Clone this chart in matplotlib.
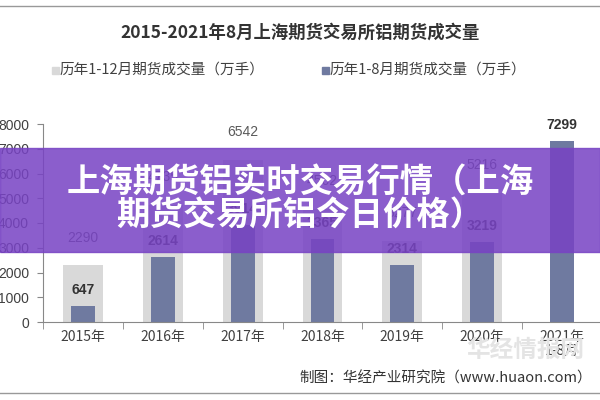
import matplotlib
matplotlib.use("Agg")
import matplotlib.pyplot as plt
from matplotlib.patches import Rectangle
import numpy as np

plt.rcParams['font.family'] = ['Noto Sans CJK SC', 'DejaVu Sans']

categories = ["2015年", "2016年", "2017年", "2018年", "2019年", "2020年", "2021年\n1-8月"]
full_year = [2290, 4735, 6542, 4562, 3277, 5216, None]
jan_aug = [647, 2614, 3914, 3365, 2314, 3219, 7299]
yticks = [0, 1000, 2000, 3000, 4000, 5000, 6000, 7000, 8000]

title = "2015-2021年8月上海期货交易所铝期货成交量"
legend_labels = ["历年1-12月期货成交量（万手）", "历年1-8月期货成交量（万手）"]
banner_lines = ["上海期货铝实时交易行情（上海", "期货交易所铝今日价格）"]
source = "制图：华经产业研究院（www.huaon.com）"

gray = "#d9d9d9"
dark = "#6f7aa0"
txt = "#404040"

fig = plt.figure(figsize=(6, 4), dpi=100)
ax = fig.add_axes([43/600, 1-322/400, 559/600, 198/400])

x = np.arange(len(categories))
fy_x = [i for i, v in enumerate(full_year) if v is not None]
fy_v = [v for v in full_year if v is not None]
ax.bar(fy_x, fy_v, width=0.5, color=gray, zorder=1)
ax.bar(x, jan_aug, width=0.3, color=dark, zorder=2)

for xi, v in zip(fy_x, fy_v):
    ax.annotate(f"{v}", (xi, v), xytext=(0, 20), textcoords="offset points",
                ha="center", va="center", fontsize=10, color="#595959",
                family=['Liberation Sans', 'DejaVu Sans'])
for xi, v in zip(x, jan_aug):
    ax.annotate(f"{v}", (xi, v), xytext=(0, 11.5), textcoords="offset points",
                ha="center", va="center", fontsize=10, color="#333333",
                fontweight="bold", family=['Liberation Sans', 'DejaVu Sans'])

ax.set_xlim(-0.5, len(categories) - 0.5)
ax.set_ylim(0, 8000)
ax.set_yticks(yticks)
ax.set_yticklabels([str(t) for t in yticks], fontsize=10, color=txt,
                   family=['Liberation Sans', 'DejaVu Sans'])
ax.set_xticks(x)
ax.set_xticklabels(categories, fontsize=10, color=txt, linespacing=1.0)
ax.set_xticks(np.arange(-0.5, len(categories) + 0.5, 1), minor=True)
ax.tick_params(axis='x', which='major', length=0, pad=6)
ax.tick_params(axis='x', which='minor', length=5, color="#888888")
ax.tick_params(axis='y', length=4, color="#888888", pad=6)
for s in ["top", "right"]:
    ax.spines[s].set_visible(False)
ax.spines["left"].set_color("#888888")
ax.spines["bottom"].set_color("#888888")

fig.text(0.5, 1-33/400, title, ha="center", va="center", fontsize=12.5,
         fontweight="bold", color="#333333")

# legend
fig.patches.append(Rectangle((52/600, 1-74/400), 7/600, 7/400, transform=fig.transFigure,
                             color=gray, figure=fig))
fig.text(60/600, 1-70/400, legend_labels[0], ha="left", va="center", fontsize=10.5, color=txt)
fig.patches.append(Rectangle((322/600, 1-74/400), 7/600, 7/400, transform=fig.transFigure,
                             color=dark, figure=fig))
fig.text(330/600, 1-70/400, legend_labels[1], ha="left", va="center", fontsize=10.5, color=txt)

# borders
fig.add_artist(plt.Line2D([0, 1], [1-6/400, 1-6/400], transform=fig.transFigure,
                          color="#999999", lw=1))
fig.add_artist(plt.Line2D([0, 1], [1-393/400, 1-393/400], transform=fig.transFigure,
                          color="#999999", lw=1))

# watermark
fig.text(525/600, 1-350/400, "华经情报网", ha="center", va="center", fontsize=17,
         color="#e4e4e4", fontweight="bold", zorder=0)

fig.text(592/600, 1-378/400, source, ha="right", va="center", fontsize=10.5, color="#333333")

# banner overlay
fig.patches.append(Rectangle((0, 1-252/400), 1, 104/400, transform=fig.transFigure,
                             color="#7843c4", alpha=0.86, figure=fig, zorder=10))
fig.text(0.5, 1-183/400, banner_lines[0], ha="center", va="center", fontsize=24,
         fontweight="bold", color="white", zorder=11)
fig.text(0.5, 1-216/400, banner_lines[1], ha="center", va="center", fontsize=24,
         fontweight="bold", color="white", zorder=11)

fig.savefig("out.png", dpi=100)
